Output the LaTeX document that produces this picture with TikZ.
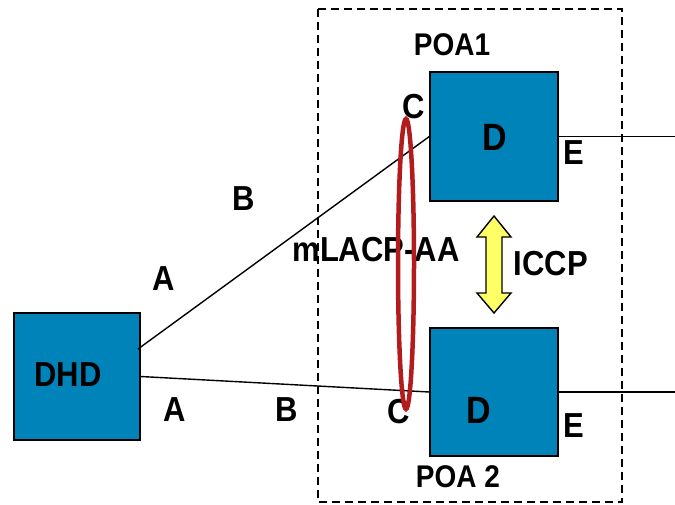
\documentclass[tikz,border=0pt]{standalone}
\usepackage{fontspec}
\setmainfont{Liberation Sans}
\definecolor{boxblue}{RGB}{0,131,184}
\definecolor{ringred}{RGB}{178,28,28}
\definecolor{arrowyellow}{RGB}{255,255,102}
\newcommand{\tallt}[1]{\scalebox{1}[1.12]{#1}}
\tikzset{
  unitbox/.style={draw=black, line width=1.4pt, fill=boxblue, inner sep=0pt},
  lbl/.style={inner sep=0pt, text depth=0pt, font=\fontsize{31}{36}\selectfont\bfseries},
  poalbl/.style={inner sep=0pt, text depth=0pt, font=\fontsize{28}{34}\selectfont\bfseries},
  dlbl/.style={inner sep=0pt, text depth=0pt, font=\fontsize{34}{40}\selectfont\bfseries},
  link/.style={draw=black, line width=1.4pt},
  poaframe/.style={draw=black, line width=1.6pt, dash pattern=on 8pt off 5pt},
  ring/.style={draw=ringred, line width=4.5pt},
  iccparrow/.style={draw=black, line width=1.4pt, fill=arrowyellow, line join=miter}
}
\begin{document}
\begin{tikzpicture}[x=1pt,y=-1pt]
\useasboundingbox (0,0) rectangle (675,504);
% dashed frame
\draw[poaframe] (318,9) rectangle (622,502);
% boxes
\node[unitbox, minimum width=126pt, minimum height=127pt] (dhd) at (77,376.5) {};
\node[unitbox, minimum width=128pt, minimum height=129pt] (d1) at (494,136.5) {};
\node[unitbox, minimum width=128pt, minimum height=128pt] (d2) at (494,392) {};
% endpoints
\coordinate (dhdtop) at (138,349);
\coordinate (out1) at (675,136.5);
\coordinate (out2) at (675,392);
% links
\draw[link] (dhdtop) -- (d1.west);
\draw[link] (dhd.east) -- (d2.west);
\draw[link] (d1.east) -- (out1);
\draw[link] (d2.east) -- (out2);
% ICCP double arrow
\draw[iccparrow] (494,216) -- (511,237) -- (502,237) -- (502,293) -- (511,293) -- (494,313)
  -- (477,293) -- (486,293) -- (486,237) -- (477,237) -- cycle;
% labels
\node[poalbl] (poa1) at (452,45) {\tallt{POA1}};
\node[poalbl] (poa2) at (458,477) {\tallt{POA 2}};
\node[lbl] (c1) at (414,106) {\tallt{C}};
\node[dlbl] (dd1) at (495,137) {\tallt{D}};
\node[lbl] (e1) at (574,153) {\tallt{E}};
\node[lbl] (b1) at (244,199) {\tallt{B}};
\node[lbl] (a1) at (164,279) {\tallt{A}};
\node[lbl] (mlacp) at (376,249) {\tallt{mLACP-AA}};
\node[lbl] (iccp) at (551,263) {\tallt{ICCP}};
\node[lbl] (dhdl) at (68,375) {\tallt{DHD}};
\node[lbl] (a2) at (175,410) {\tallt{A}};
\node[lbl] (b2) at (287,410) {\tallt{B}};
\node[lbl] (c2) at (399,411) {\tallt{C}};
\node[dlbl] (dd2) at (479,410) {\tallt{D}};
\node[lbl] (e2) at (574,426) {\tallt{E}};
% mLACP ring
\draw[ring] (406,264) ellipse [x radius=8, y radius=145];
\end{tikzpicture}
\end{document}
